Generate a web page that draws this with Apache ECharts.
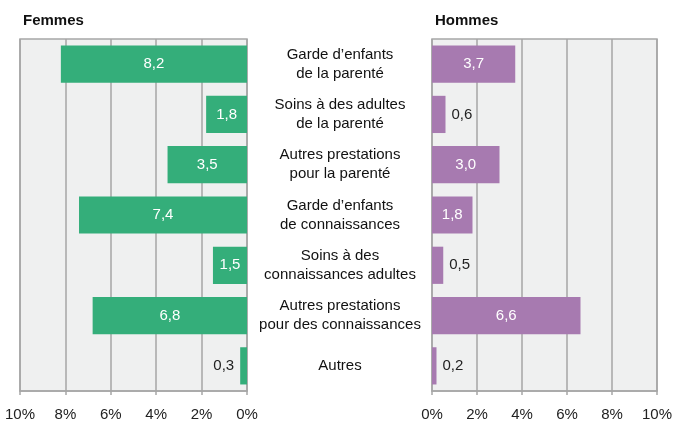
<!DOCTYPE html>
<html>
<head>
<meta charset="utf-8">
<script src="https://cdn.jsdelivr.net/npm/echarts@6/dist/echarts.min.js"></script>
<style>
  body { margin: 0; background: #fff; }
  #main { width: 675px; height: 423px; }
</style>
</head>
<body>
<div id="main"></div>
<script>
// categories (top to bottom)
var categories = [
  'Garde d\u2019enfants\nde la parenté',
  'Soins à des adultes\nde la parenté',
  'Autres prestations\npour la parenté',
  'Garde d\u2019enfants\nde connaissances',
  'Soins à des\nconnaissances adultes',
  'Autres prestations\npour des connaissances',
  'Autres'
];
var femmes = [8.2, 1.8, 3.5, 7.4, 1.5, 6.8, 0.3];
var hommes = [3.7, 0.6, 3.0, 1.8, 0.5, 6.6, 0.2];
var femmesInside = [true, true, true, true, true, true, false];
var hommesInside = [true, false, true, true, false, true, false];

var font = '"Liberation Sans", Arial, sans-serif';
var green = '#34ae7a', purple = '#a77ab0', gridGray = '#a6a6a6';

function buildData(values, inside, pos) {
  return values.map(function (v, i) {
    return {
      value: v,
      label: inside[i]
        ? { position: 'inside', color: '#fff' }
        : { position: pos, color: '#222' }
    };
  });
}

var baseX = {
  type: 'value', min: 0, max: 10, interval: 2,
  axisLine: { show: true, lineStyle: { color: gridGray, width: 1.5 } },
  axisTick: { show: true, length: 4, lineStyle: { color: gridGray, width: 1.5 } },
  splitLine: { show: true, lineStyle: { color: gridGray, width: 1.5 } },
  axisLabel: { formatter: '{value}%', color: '#222', fontSize: 15, fontFamily: font, margin: 16 }
};

var chart = echarts.init(document.getElementById('main'));
chart.setOption({
  animation: false,
  title: [
    { text: 'Femmes', left: 18, top: 8, textStyle: { fontSize: 15, fontWeight: 'bold', color: '#111', fontFamily: font } },
    { text: 'Hommes', left: 430, top: 8, textStyle: { fontSize: 15, fontWeight: 'bold', color: '#111', fontFamily: font } }
  ],
  grid: [
    { left: 20, right: 428, top: 39, bottom: 32, show: true, backgroundColor: '#eff0f0', borderColor: gridGray, borderWidth: 1.5 },
    { left: 432, right: 16, top: 39, bottom: 32, show: true, backgroundColor: '#eff0f0', borderColor: gridGray, borderWidth: 1.5 }
  ],
  xAxis: [
    Object.assign({}, baseX, { gridIndex: 0, inverse: true }),
    Object.assign({}, baseX, { gridIndex: 1 })
  ],
  yAxis: [
    { type: 'category', gridIndex: 0, data: categories, inverse: true, position: 'right',
      axisLine: { show: false }, axisTick: { show: false }, axisLabel: { show: false } },
    { type: 'category', gridIndex: 1, data: categories, inverse: true,
      axisLine: { show: false }, axisTick: { show: false },
      axisLabel: { align: 'center', margin: 92, color: '#111', fontSize: 15, lineHeight: 19, fontFamily: font } }
  ],
  series: [
    { type: 'bar', xAxisIndex: 0, yAxisIndex: 0, barCategoryGap: '26%',
      itemStyle: { color: green },
      label: { show: true, fontSize: 15, fontFamily: font, distance: 6,
        formatter: function (p) { return p.value.toFixed(1).replace('.', ','); } },
      data: buildData(femmes, femmesInside, 'left') },
    { type: 'bar', xAxisIndex: 1, yAxisIndex: 1, barCategoryGap: '26%',
      itemStyle: { color: purple },
      label: { show: true, fontSize: 15, fontFamily: font, distance: 6,
        formatter: function (p) { return p.value.toFixed(1).replace('.', ','); } },
      data: buildData(hommes, hommesInside, 'right') }
  ]
});
</script>
</body>
</html>
